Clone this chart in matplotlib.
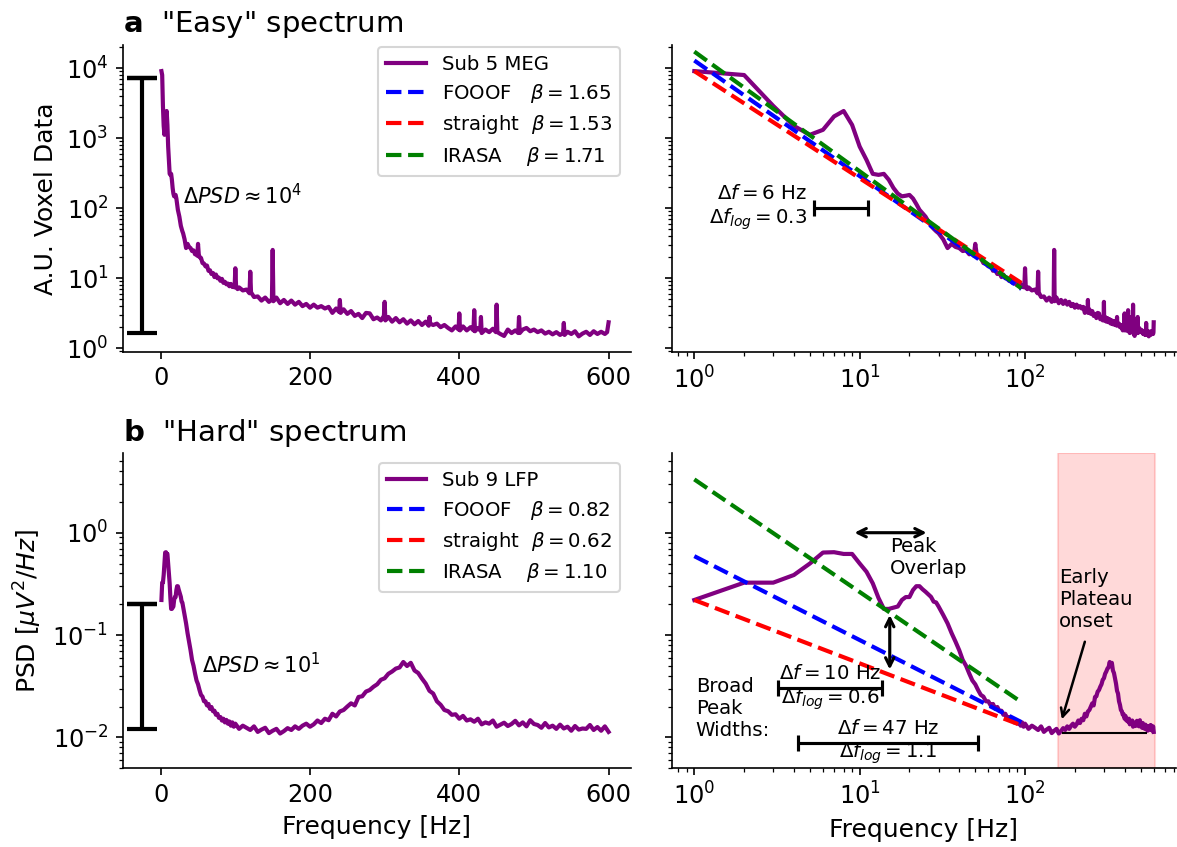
import matplotlib
matplotlib.use("Agg")
import matplotlib.pyplot as plt

# "Easy" spectrum (Sub 5 MEG)
freq_easy = [1, 2, 3, 4, 5, 6, 7, 8, 9, 10, 11, 12, 13, 14, 15, 16, 17, 18, 19, 20,
             21, 22, 23, 24, 25, 26, 27, 28, 29, 30, 32, 34, 36, 38, 40, 42, 44, 46, 48, 49,
             50, 51, 52, 54, 56, 58, 60, 62, 64, 66, 68, 70, 72, 74, 76, 78, 80, 82, 84, 86,
             88, 90, 92, 94, 96, 98, 99, 100, 101, 103, 105, 110, 115, 119, 120, 121, 125, 130, 135, 140,
             145, 149, 150, 151, 155, 160, 165, 170, 175, 180, 185, 190, 195, 200, 205, 210, 215, 220, 225, 230,
             235, 239, 240, 241, 245, 250, 255, 260, 265, 270, 275, 280, 285, 290, 295, 299, 300, 301, 305, 310,
             315, 320, 325, 330, 335, 340, 345, 350, 355, 359, 360, 361, 365, 370, 375, 380, 385, 390, 395, 399,
             400, 401, 405, 410, 415, 419, 420, 421, 425, 428, 429, 430, 435, 440, 445, 449, 450, 451, 455, 460,
             465, 470, 475, 479, 480, 481, 485, 490, 495, 500, 505, 510, 515, 520, 525, 530, 535, 539, 540, 541,
             545, 550, 555, 560, 565, 570, 575, 580, 585, 590, 595, 598, 600]
psd_easy = [9100, 8000, 2900, 1500, 1120, 1320, 2050, 2450, 1550, 760, 490, 310, 300, 310, 255, 195, 162, 148, 151, 155,
            138, 115, 95, 85, 76, 65, 56, 51, 47, 44, 36, 27, 31, 28, 27, 24.5, 25, 22, 23.5, 21,
            31, 22, 20, 19.5, 16.5, 16.2, 14.8, 15.2, 12.8, 13.0, 11.5, 11.9, 10.4, 11.3, 10.0, 10.2, 9.2, 9.8, 8.6, 8.9,
            8.2, 8.4, 7.7, 8.3, 7.5, 7.9, 7.4, 13.9, 7.6, 7.0, 7.4, 6.7, 6.9, 6.1, 12.4, 6.3, 5.4, 5.5, 4.8, 5.3,
            4.6, 5.0, 25.4, 4.7, 5.3, 4.4, 4.9, 4.3, 4.8, 4.2, 4.6, 4.0, 4.3, 3.8, 4.2, 3.8, 4.0, 3.7, 3.9, 3.2,
            3.7, 3.3, 4.9, 3.2, 3.6, 3.1, 3.4, 2.9, 3.1, 2.7, 3.2, 3.15, 2.6, 2.75, 2.5, 2.9, 4.6, 2.5, 2.8, 2.4,
            2.7, 2.35, 2.6, 2.25, 2.5, 2.2, 2.45, 2.15, 2.4, 2.1, 2.8, 2.25, 2.15, 2.25, 2.0, 2.15, 1.95, 1.8, 2.05, 1.85,
            3.15, 1.8, 2.05, 1.8, 2.0, 1.8, 3.5, 1.75, 1.95, 1.8, 2.8, 1.65, 1.85, 1.7, 1.9, 1.7, 4.2, 1.7, 1.6, 1.5,
            1.85, 1.65, 1.8, 1.65, 2.8, 1.65, 1.85, 1.95, 1.75, 1.85, 1.7, 1.8, 1.62, 1.72, 1.58, 1.7, 1.55, 1.65, 2.3, 1.55,
            1.72, 1.6, 1.75, 1.48, 1.62, 1.72, 1.55, 1.75, 1.6, 1.72, 1.6, 1.7, 2.35]

# "Hard" spectrum (Sub 9 LFP)
freq_hard = [1, 2, 3, 4, 5, 6, 7, 8, 9, 10, 11, 12, 13, 14, 15, 16, 17, 18, 19, 20,
             21, 22, 23, 24, 25, 26, 27, 28, 29, 30, 32, 34, 36, 38, 40, 42, 44, 46, 48, 50,
             52, 54, 56, 58, 60, 62, 64, 66, 68, 70, 72, 74, 76, 78, 80, 82, 84, 86, 88, 90,
             92, 94, 96, 98, 100, 105, 110, 115, 120, 125, 130, 135, 140, 145, 150, 155, 160, 165, 170, 175,
             180, 185, 190, 195, 200, 205, 210, 215, 220, 225, 230, 235, 240, 245, 250, 255, 260, 265, 270, 275,
             280, 285, 290, 295, 300, 305, 310, 315, 320, 325, 330, 335, 340, 345, 350, 355, 360, 365, 370, 375,
             380, 385, 390, 395, 400, 405, 410, 415, 420, 425, 430, 435, 440, 445, 450, 455, 460, 465, 470, 475,
             480, 485, 490, 495, 500, 505, 510, 515, 520, 525, 530, 535, 540, 545, 550, 555, 560, 565, 570, 575,
             580, 585, 590, 595, 600]
psd_hard = [0.22, 0.325, 0.325, 0.386, 0.50, 0.64, 0.645, 0.62, 0.62, 0.50, 0.415, 0.32, 0.23, 0.18, 0.18, 0.185, 0.19, 0.22, 0.235, 0.235,
            0.275, 0.30, 0.30, 0.28, 0.265, 0.25, 0.236, 0.212, 0.208, 0.19, 0.157, 0.13, 0.104, 0.086, 0.071, 0.057, 0.050, 0.042, 0.036, 0.033,
            0.029, 0.026, 0.0250, 0.0225, 0.0225, 0.0205, 0.0212, 0.0190, 0.0198, 0.0180, 0.0182, 0.0166, 0.0170, 0.0155, 0.0158, 0.0146, 0.0152, 0.0140, 0.0148, 0.0136,
            0.0143, 0.0130, 0.0140, 0.0127, 0.0136, 0.0121, 0.0130, 0.0124, 0.0118, 0.0128, 0.0113, 0.0119, 0.0124, 0.0110, 0.0116, 0.0121, 0.0109, 0.0115, 0.0123, 0.0118,
            0.0128, 0.0121, 0.0130, 0.0136, 0.0127, 0.0134, 0.0146, 0.0138, 0.0152, 0.0147, 0.0170, 0.0160, 0.0179, 0.0185, 0.0200, 0.0215, 0.0205, 0.0248, 0.0252, 0.0280,
            0.0290, 0.0312, 0.0330, 0.0365, 0.0378, 0.0418, 0.0440, 0.0470, 0.0482, 0.0545, 0.0498, 0.0535, 0.0450, 0.0425, 0.0375, 0.0335, 0.0285, 0.0268, 0.0225, 0.0208,
            0.0185, 0.0180, 0.0166, 0.0168, 0.0152, 0.0162, 0.0146, 0.0150, 0.0142, 0.0152, 0.0134, 0.0140, 0.0136, 0.0146, 0.0127, 0.0133, 0.0139, 0.0129, 0.0135, 0.0145,
            0.0131, 0.0140, 0.0128, 0.0147, 0.0135, 0.0132, 0.0124, 0.0138, 0.0125, 0.0130, 0.0121, 0.0133, 0.0122, 0.0127, 0.0116, 0.0129, 0.0119, 0.0122, 0.0121, 0.0132,
            0.0118, 0.0126, 0.0116, 0.0128, 0.0113]

# 1/f fits (end points of the straight lines in log-log)
fit_freq = [1, 95]
easy_fooof = [12900, 7.03]
easy_straight = [9100, 8.57]
easy_irasa = [17300, 7.18]
hard_fooof = [0.59, 0.0141]
hard_straight = [0.22, 0.0131]
hard_irasa = [3.32, 0.0221]

easy_labels = ["Sub 5 MEG", r"FOOOF   $\beta=1.65$", r"straight  $\beta=1.53$", r"IRASA    $\beta=1.71$"]
hard_labels = ["Sub 9 LFP", r"FOOOF   $\beta=0.82$", r"straight  $\beta=0.62$", r"IRASA    $\beta=1.10$"]

# annotation values
easy_range = [1.67, 7350]
hard_range = [0.012, 0.2]
easy_df = [5.3, 11.2]
hard_df_small = [3.2, 13.7]
hard_df_large = [4.24, 51.8]
plateau = [167, 547, 0.011]
plateau_span = [159, 610]

fig = plt.figure(figsize=(1177 / 150, 847 / 150), dpi=150)
ax1 = fig.add_axes([0.1045, 0.5848, 0.4316, 0.3621])
ax2 = fig.add_axes([0.5707, 0.5848, 0.4285, 0.3621], sharey=ax1)
ax3 = fig.add_axes([0.1045, 0.0929, 0.4316, 0.3719])
ax4 = fig.add_axes([0.5707, 0.0929, 0.4285, 0.3719], sharey=ax3)

lw_dash = 2
lw_psd = 2


def spectrum(axl, axr, f, p, fits, labels):
    axl.plot(f, p, color="purple", lw=lw_psd, label=labels[0])
    cols = ["b", "r", "g"]
    for c, lab in zip(cols, labels[1:]):
        axl.plot([], [], "--", color=c, lw=lw_dash, label=lab)
    axr.plot(f, p, color="purple", lw=lw_psd)
    for fit, c in zip(fits, cols):
        axr.plot(fit_freq, fit, "--", color=c, lw=lw_dash)
    axl.set_yscale("log")
    axr.set_xscale("log")
    axr.set_yscale("log")
    axr.tick_params(labelleft=False)
    axl.set_xticks([0, 200, 400, 600])
    for a in (axl, axr):
        a.spines["top"].set_visible(False)
        a.spines["right"].set_visible(False)
        a.tick_params(labelsize=11.5)


spectrum(ax1, ax2, freq_easy, psd_easy, [easy_fooof, easy_straight, easy_irasa], easy_labels)
spectrum(ax3, ax4, freq_hard, psd_hard, [hard_fooof, hard_straight, hard_irasa], hard_labels)

# range bars
for a, rng in [(ax1, easy_range), (ax3, hard_range)]:
    a.errorbar([-25], [rng[0]], yerr=[[0], [rng[1] - rng[0]]], color="k", lw=2, capsize=7, capthick=2)
    a.errorbar([-25], [rng[1]], yerr=[[0], [0]], color="k", lw=0, capsize=7, capthick=2)
ax1.text(30, 150, r"$\Delta PSD \approx 10^4$", fontsize=10, va="center")
ax3.text(55, 0.051, r"$\Delta PSD \approx 10^1$", fontsize=10, va="center")

ax1.set_xlim(-50.5, 630)
ax1.set_ylim(0.894, 21500)
ax2.set_xlim(0.73, 819)
ax3.set_xlim(-50.5, 630)
ax3.set_ylim(0.00498, 5.97)
ax4.set_xlim(0.73, 819)

ax1.set_ylabel("A.U. Voxel Data", fontsize=12)
ax3.set_ylabel(r"PSD [$\mu V^2/Hz$]", fontsize=12)
ax3.set_xlabel("Frequency [Hz]", fontsize=12)
ax4.set_xlabel("Frequency [Hz]", fontsize=12)

ax1.set_title(r'$\bf{a}$  "Easy" spectrum', loc="left", fontsize=14)
ax3.set_title(r'$\bf{b}$  "Hard" spectrum', loc="left", fontsize=14)

ax1.legend(loc="upper right", bbox_to_anchor=(0.978, 0.994), borderaxespad=0, fontsize=9.5, labelspacing=0.42)
ax3.legend(loc="upper right", bbox_to_anchor=(0.978, 0.968), borderaxespad=0, fontsize=9.5, labelspacing=0.42)

# top right: peak width
fs_ann = 9.5
c = (easy_df[0] * easy_df[1]) ** 0.5
ax2.errorbar([c], [100], xerr=[[c - easy_df[0]], [easy_df[1] - c]], color="k", lw=1.5, capsize=4, capthick=1.5)
ax2.text(4.8, 100, "$\\Delta f = 6$ Hz\n$\\Delta f_{log} = 0.3$", fontsize=fs_ann,
         ha="right", va="center", multialignment="right")

# bottom right annotations
ax4.axvspan(plateau_span[0], plateau_span[1], color="r", alpha=0.15, zorder=0)
ax4.hlines(plateau[2], plateau[0], plateau[1], color="k", lw=1)
ax4.annotate("", xy=(167, 0.015), xytext=(230, 0.086),
             arrowprops=dict(arrowstyle="->", lw=1.2, shrinkA=0, shrinkB=0))
ax4.text(161, 0.224, "Early\nPlateau\nonset", fontsize=fs_ann, ha="left", va="center")

ax4.annotate("", xy=(9.3, 1.0), xytext=(25.4, 1.0),
             arrowprops=dict(arrowstyle="<->", lw=1.5, shrinkA=0, shrinkB=0))
ax4.text(15.3, 0.578, "Peak\nOverlap", fontsize=fs_ann, ha="left", va="center")
ax4.annotate("", xy=(15.2, 0.157), xytext=(15.2, 0.046),
             arrowprops=dict(arrowstyle="<->", lw=1.5, shrinkA=0, shrinkB=0))

ax4.text(1.02, 0.0192, "Broad\nPeak\nWidths:", fontsize=fs_ann, ha="left", va="center")

for rng, y, txt in [(hard_df_small, 0.0301, "$\\Delta f = 10$ Hz\n$\\Delta f_{log} = 0.6$"),
                    (hard_df_large, 0.0089, "$\\Delta f = 47$ Hz\n$\\Delta f_{log} = 1.1$")]:
    c = (rng[0] * rng[1]) ** 0.5
    ax4.errorbar([c], [y], xerr=[[c - rng[0]], [rng[1] - c]], color="k", lw=1.5, capsize=4, capthick=1.5)
    ax4.text(c, y, txt, fontsize=fs_ann, ha="center", va="center", multialignment="center")

fig.savefig("out.png", dpi=150)
